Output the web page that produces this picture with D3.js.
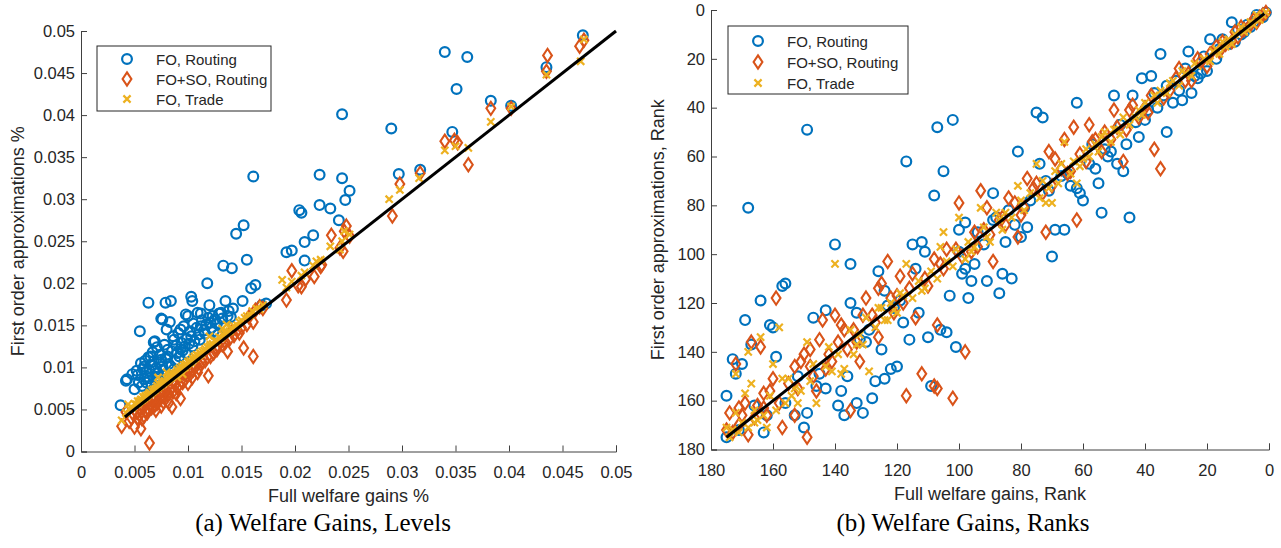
<!DOCTYPE html>
<html>
<head>
<meta charset="utf-8">
<script src="https://cdn.jsdelivr.net/npm/d3@7"></script>
<style>
body{margin:0;background:#fff}
svg text{font-family:"Liberation Sans",Arial,sans-serif;fill:#262626}
svg text.caption{font-family:"Liberation Serif","Times New Roman",serif;fill:#000}
</style>
</head>
<body>
<svg id="fig" width="1281" height="548"></svg>
<script>
// legend / series
const seriesNames = ["FO, Routing", "FO+SO, Routing", "FO, Trade"];
const seriesColors = ["#0072BD", "#D95319", "#EDB120"];

// panel (a): [full welfare gain %, first order approximation %]
const levelFO = [
 [0.0469,0.0495],[0.0340,0.0475],[0.0361,0.0469],[0.0351,0.0431],[0.0383,0.0417],[0.0402,0.0411],[0.0435,0.0457],
 [0.0244,0.0401],[0.0290,0.0384],[0.0347,0.0380],[0.0317,0.0335],[0.0297,0.0330],[0.0223,0.0329],[0.0244,0.0325],
 [0.0251,0.0310],[0.0247,0.0299],[0.0204,0.0287],[0.0206,0.0284],[0.0223,0.0293],[0.0233,0.0289],[0.0241,0.0275],
 [0.0217,0.0257],[0.0209,0.0249],[0.0192,0.0237],[0.0197,0.0239],[0.0209,0.0227],[0.0161,0.0327],[0.0152,0.0269],
 [0.0145,0.0259],[0.0155,0.0228],[0.0133,0.0221],[0.0141,0.0218],[0.0118,0.0200],[0.0163,0.0198],[0.0159,0.0194],
 [0.0103,0.0184],[0.0104,0.0179],[0.0063,0.0177],[0.0079,0.0177],[0.0084,0.0179],[0.0135,0.0179],[0.0151,0.0179],
 [0.0169,0.0174],[0.0120,0.0174],[0.0055,0.0143],[0.0075,0.0158],[0.0080,0.0145],[0.0083,0.0154],[0.0098,0.0163],
 [0.0112,0.0164],[0.0123,0.0161],[0.0129,0.0164],[0.0138,0.0167],[0.0142,0.0170],[0.0068,0.0130],[0.0042,0.0084],
 [0.0037,0.0055],[0.0043,0.0086],[0.0050,0.0074],[0.0053,0.0091],[0.0059,0.0101],[0.0065,0.0113],[0.0069,0.0131],
 [0.0076,0.0157],[0.0093,0.0145],[0.0100,0.0161],[0.0109,0.0165],[0.0131,0.0165],[0.0137,0.0161],[0.0087,0.0133],
 [0.0081,0.0121],[0.0097,0.0125],[0.0075,0.0109],[0.0084,0.0101],[0.0062,0.0089],[0.0072,0.0093],[0.0054,0.0082],
 [0.0112,0.0149],[0.0121,0.0153],[0.0103,0.0137],[0.0090,0.0117],[0.0069,0.0074],[0.0048,0.0092],[0.0052,0.0096],
 [0.0056,0.0105],[0.0058,0.0098],[0.0060,0.0108],[0.0061,0.0094],[0.0063,0.0112],[0.0064,0.0087],[0.0066,0.0103],
 [0.0067,0.0118],[0.0070,0.0099],[0.0071,0.0124],[0.0073,0.0106],[0.0074,0.0115],[0.0077,0.0097],[0.0078,0.0127],
 [0.0079,0.0111],[0.0082,0.0104],[0.0085,0.0119],[0.0086,0.0137],[0.0088,0.0108],[0.0089,0.0126],[0.0091,0.0141],
 [0.0092,0.0113],[0.0094,0.0129],[0.0095,0.0120],[0.0096,0.0149],[0.0099,0.0134],[0.0101,0.0128],[0.0102,0.0143],
 [0.0105,0.0152],[0.0106,0.0131],[0.0108,0.0147],[0.0110,0.0139],[0.0113,0.0156],[0.0115,0.0144],[0.0117,0.0151],
 [0.0119,0.0159],[0.0122,0.0147],[0.0125,0.0157],[0.0127,0.0152],[0.0132,0.0158],[0.0134,0.0149],[0.0140,0.0160],
 [0.0057,0.0078],[0.0061,0.0082],[0.0066,0.0079],[0.0072,0.0086],[0.0079,0.0092],[0.0083,0.0088],[0.0173,0.0176],
 [0.0064,0.0096],[0.0068,0.0107],[0.0070,0.0089],[0.0076,0.0101],[0.0081,0.0113],[0.0087,0.0098],[0.0093,0.0122],
 [0.0098,0.0117],[0.0104,0.0125],[0.0111,0.0133],[0.0116,0.0140],[0.0124,0.0143],[0.0128,0.0139],[0.0059,0.0086]
];
const levelFOSO = [
 [0.0436,0.0471],[0.0466,0.0482],[0.0470,0.0489],[0.0435,0.0452],[0.0383,0.0408],[0.0402,0.0408],[0.0340,0.0369],
 [0.0349,0.0370],[0.0352,0.0367],[0.0362,0.0341],[0.0317,0.0331],[0.0298,0.0318],[0.0291,0.0280],[0.0248,0.0268],
 [0.0234,0.0257],[0.0246,0.0262],[0.0251,0.0256],[0.0245,0.0238],[0.0242,0.0242],[0.0224,0.0220],[0.0197,0.0215],
 [0.0206,0.0196],[0.0218,0.0208],[0.0192,0.0180],[0.0161,0.0113],[0.0152,0.0123],[0.0161,0.0154],[0.0119,0.0090],
 [0.0137,0.0119],[0.0127,0.0121],[0.0064,0.0010],[0.0038,0.0030],[0.0050,0.0029],[0.0056,0.0027],[0.0085,0.0053],
 [0.0093,0.0063],[0.0104,0.0088],[0.0070,0.0049],[0.0042,0.0047],[0.0077,0.0059],[0.0210,0.0205],[0.0203,0.0197],
 [0.0225,0.0222],[0.0163,0.0168],[0.0167,0.0172],[0.0157,0.0160],[0.0170,0.0170],[0.0148,0.0141],[0.0143,0.0138],
 [0.0139,0.0134],[0.0132,0.0127],[0.0128,0.0125],[0.0124,0.0117],[0.0121,0.0113],[0.0116,0.0108],[0.0113,0.0106],
 [0.0110,0.0099],[0.0107,0.0101],[0.0102,0.0092],[0.0099,0.0090],[0.0097,0.0085],[0.0095,0.0082],[0.0092,0.0080],
 [0.0090,0.0076],[0.0088,0.0079],[0.0086,0.0071],[0.0084,0.0074],[0.0082,0.0068],[0.0080,0.0072],[0.0078,0.0065],
 [0.0076,0.0067],[0.0074,0.0062],[0.0072,0.0060],[0.0071,0.0057],[0.0069,0.0055],[0.0068,0.0060],[0.0066,0.0052],
 [0.0065,0.0057],[0.0063,0.0050],[0.0062,0.0046],[0.0060,0.0048],[0.0059,0.0042],[0.0058,0.0052],[0.0057,0.0039],
 [0.0055,0.0044],[0.0053,0.0040],[0.0052,0.0047],[0.0047,0.0040],[0.0045,0.0036],[0.0118,0.0112],[0.0114,0.0112],
 [0.0126,0.0124],[0.0131,0.0131],[0.0135,0.0130],[0.0141,0.0143],[0.0146,0.0144],[0.0150,0.0147],[0.0155,0.0151],
 [0.0101,0.0097],[0.0096,0.0093],[0.0091,0.0087],[0.0087,0.0083],[0.0081,0.0077],[0.0079,0.0074],[0.0073,0.0069],
 [0.0067,0.0063],[0.0061,0.0057],[0.0054,0.0051],[0.0082,0.0058],[0.0075,0.0054],[0.0089,0.0069],[0.0100,0.0081],
 [0.0109,0.0094],[0.0105,0.0097]
];
const levelTrade = [
 [0.0467,0.0464],[0.0470,0.0490],[0.0435,0.0448],[0.0383,0.0392],[0.0402,0.0410],[0.0340,0.0358],[0.0350,0.0363],
 [0.0362,0.0361],[0.0316,0.0325],[0.0298,0.0311],[0.0288,0.0300],[0.0246,0.0262],[0.0233,0.0244],[0.0242,0.0240],
 [0.0220,0.0226],[0.0188,0.0204],[0.0251,0.0258],[0.0224,0.0228],[0.0206,0.0209],[0.0197,0.0202],[0.0209,0.0213],
 [0.0217,0.0221],[0.0192,0.0195],[0.0244,0.0250],[0.0170,0.0174],[0.0167,0.0169],[0.0164,0.0170],[0.0160,0.0167],
 [0.0158,0.0162],[0.0155,0.0161],[0.0153,0.0159],[0.0150,0.0156],[0.0148,0.0154],[0.0146,0.0150],[0.0143,0.0149],
 [0.0141,0.0147],[0.0139,0.0143],[0.0137,0.0142],[0.0135,0.0140],[0.0133,0.0139],[0.0131,0.0135],[0.0129,0.0136],
 [0.0127,0.0131],[0.0125,0.0132],[0.0123,0.0128],[0.0121,0.0127],[0.0120,0.0125],[0.0118,0.0124],[0.0116,0.0122],
 [0.0115,0.0120],[0.0113,0.0119],[0.0112,0.0116],[0.0111,0.0117],[0.0110,0.0114],[0.0108,0.0115],[0.0107,0.0111],
 [0.0106,0.0113],[0.0105,0.0109],[0.0104,0.0111],[0.0103,0.0106],[0.0102,0.0108],[0.0101,0.0105],[0.0100,0.0107],
 [0.0099,0.0103],[0.0098,0.0104],[0.0097,0.0100],[0.0096,0.0103],[0.0095,0.0099],[0.0094,0.0101],[0.0093,0.0096],
 [0.0092,0.0099],[0.0091,0.0095],[0.0090,0.0097],[0.0089,0.0094],[0.0088,0.0093],[0.0087,0.0091],[0.0086,0.0092],
 [0.0085,0.0089],[0.0084,0.0091],[0.0083,0.0087],[0.0082,0.0088],[0.0081,0.0085],[0.0080,0.0087],[0.0079,0.0083],
 [0.0078,0.0084],[0.0077,0.0081],[0.0076,0.0083],[0.0075,0.0080],[0.0074,0.0078],[0.0073,0.0080],[0.0072,0.0076],
 [0.0071,0.0078],[0.0070,0.0075],[0.0069,0.0073],[0.0068,0.0074],[0.0067,0.0071],[0.0066,0.0073],[0.0065,0.0069],
 [0.0064,0.0070],[0.0063,0.0068],[0.0062,0.0067],[0.0061,0.0065],[0.0060,0.0066],[0.0059,0.0063],[0.0058,0.0065],
 [0.0057,0.0061],[0.0056,0.0062],[0.0055,0.0060],[0.0054,0.0058],[0.0053,0.0060],[0.0052,0.0056],[0.0050,0.0057],
 [0.0048,0.0052],[0.0045,0.0051],[0.0042,0.0046],[0.0038,0.0037],[0.0044,0.0056],[0.0080,0.0094],[0.0090,0.0088],
 [0.0120,0.0137],[0.0136,0.0151],[0.0132,0.0146],[0.0072,0.0088],[0.0095,0.0092]
];
const levelLine = [0.0041, 0.05];
const levelTicks = [0, 0.005, 0.01, 0.015, 0.02, 0.025, 0.03, 0.035, 0.04, 0.045, 0.05];
const levelTickLabels = ["0", "0.005", "0.01", "0.015", "0.02", "0.025", "0.03", "0.035", "0.04", "0.045", "0.05"];

// panel (b): [full welfare gain rank, first order approximation rank]
const rankFO = [
 [168,81],[149,49],[140,96],[135,104],[117,62],[108,76],[107,48],[102,45],[105,66],[89,75],[81,58],[75,42],[73,44],
 [62,38],[50,35],[44,35],[41,28],[38,27],[35,18],[33,50],[26,17],[19,12],[12,5],[54,83],[45,85],[66,90],[69,90],
 [70,101],[60,78],[55,71],[62,73],[64,72],[56,65],[47,66],[49,63],[51,58],[46,55],[42,52],[40,45],[36,40],[31,38],
 [28,37],[25,34],[20,25],[23,28],[33,31],[15,12],[8,9],[3,3],[78,89],[80,93],[85,95],[89,86],[91,111],[86,108],
 [83,110],[87,116],[96,111],[99,108],[100,90],[98,87],[103,117],[97,118],[101,138],[104,132],[110,134],[106,131],
 [109,154],[120,146],[122,147],[124,151],[127,152],[128,159],[131,165],[133,161],[137,166],[139,162],[138,156],
 [136,150],[143,155],[146,154],[150,171],[153,166],[156,161],[149,165],[163,173],[175,175],[175,158],[173,143],
 [170,145],[172,149],[169,127],[164,119],[161,129],[160,130],[167,137],[159,142],[157,113],[156,112],[143,123],
 [147,126],[135,120],[133,124],[130,136],[125,139],[126,107],[124,115],[115,96],[112,95],[111,99],[114,106],
 [113,124],[118,128],[116,135],[121,122],[98,106],[74,63],[61,75],
 [1,1],[2,3],[4,2],[5,5],[6,7],[7,6],[9,10],[10,8],[11,13],[13,14],[16,16],[17,20],[21,19],[22,26],[24,27],
 [27,24],[29,33],[30,29],[34,35],[37,34],[39,41],[43,46],[48,47],[52,60],[53,57],[57,55],[58,63],[65,67],[67,68],
 [71,74],[72,70],[77,78],[79,81],[82,88],[84,82],[88,85],[92,96],[94,91],[95,104],[100,99],[119,119],[123,121],
 [129,131],[132,135],[145,149],[152,150],[162,166],[166,162],[171,172]
];
const rankFOSO = [
 [159,118],[167,136],[164,138],[172,145],[174,165],[175,172],[168,174],[171,163],[169,161],[165,162],[163,157],
 [162,166],[160,151],[157,171],[153,166],[153,146],[151,144],[150,141],[149,175],[148,139],[145,135],[144,127],
 [140,125],[138,129],[137,131],[143,147],[146,156],[135,164],[132,144],[131,125],[130,118],[126,134],[126,114],
 [125,112],[123,103],[120,117],[119,109],[115,108],[114,126],[117,158],[112,149],[108,154],[107,155],[107,129],
 [108,102],[104,98],[102,159],[100,79],[98,140],[95,91],[93,74],[91,81],[89,103],[86,85],[84,77],[81,93],[78,69],
 [75,71],[72,91],[71,58],[69,61],[65,67],[63,48],[62,86],[66,53],[58,47],[56,53],[50,41],[47,62],[44,39],[37,57],
 [35,65],[29,24],[25,29],[19,18],[15,13],[9,7],[1,1],
 [2,2],[3,3],[4,5],[5,4],[6,6],[8,8],[10,11],[11,9],[12,13],[14,14],[16,17],[17,15],[20,23],[22,21],[23,20],
 [26,26],[27,29],[30,28],[32,33],[34,36],[38,35],[39,42],[40,40],[42,44],[45,41],[46,49],[49,48],[51,53],[53,50],
 [54,58],[57,54],[59,62],[61,59],[64,66],[67,65],[70,72],[73,75],[76,73],[79,81],[80,84],[82,79],[85,88],[87,86],
 [90,92],[92,90],[94,97],[96,99],[99,101],[101,98],[105,106],[106,104],[110,113],[111,110],[116,114],[118,120],
 [121,124],[122,118],[127,128],[128,125],[133,136],[134,131],[136,139],[139,136],[141,144],[142,141],[147,150],
 [148,146],[152,155],[155,153],[158,161],[161,156],[163,163],[166,167],[170,166],[171,170],[173,173]
];
const rankTrade = [
 [140,104],[158,130],[164,134],[168,140],[172,149],[167,153],[169,157],[172,165],[175,171],[166,169],[162,171],
 [159,164],[160,145],[157,151],[153,155],[152,161],[149,136],[146,161],[141,148],[138,149],[137,147],[134,141],
 [129,148],[131,137],[125,122],[123,127],[121,123],[118,117],[117,104],[111,114],[106,97],[105,91],[100,85],
 [96,99],[93,81],[90,95],[88,83],[81,72],[75,63],[72,79],[70,79],[66,54],[62,71],[60,61],[53,50],[49,49],[43,44],
 [40,38],[37,35],[31,29],[23,23],[17,16],[11,10],[4,2],
 [1,1],[2,2],[3,4],[5,6],[6,5],[7,8],[8,9],[9,7],[12,14],[13,12],[14,15],[15,13],[16,18],[18,17],[19,21],[21,20],
 [24,22],[25,27],[27,26],[28,25],[29,31],[32,30],[33,34],[35,33],[36,38],[41,43],[42,41],[45,47],[47,44],[48,51],
 [50,49],[51,54],[54,52],[55,58],[56,55],[58,60],[59,57],[61,64],[63,62],[64,67],[67,63],[68,71],[69,66],[71,73],
 [73,70],[74,77],[77,75],[79,82],[80,78],[83,85],[85,83],[86,90],[87,86],[91,93],[92,89],[95,97],[97,95],[98,102],
 [101,98],[102,105],[104,103],[107,110],[109,107],[112,115],[113,111],[115,118],[119,116],[120,124],[122,120],
 [124,127],[126,122],[127,130],[130,126],[132,133],[133,137],[135,131],[139,141],[142,138],[143,146],[147,145],
 [148,152],[151,156],[154,158],[155,151],[156,161],[161,158],[163,166],[165,168],[166,164],[168,171],[170,169],
 [171,173],[173,172],[174,175]
];
const rankLine = [1.5, 175];
const rankTicks = [0, 20, 40, 60, 80, 100, 120, 140, 160, 180];

const svg = d3.select("#fig");

function marker(g, kind, color) {
  if (kind == 0) {
    g.append("circle").attr("r", 4.9).attr("fill", "none").attr("stroke", color).attr("stroke-width", 2.2);
  } else if (kind == 1) {
    g.append("path").attr("d", "M0,-6.6L4.4,0L0,6.6L-4.4,0Z").attr("fill", "none").attr("stroke", color).attr("stroke-width", 2.1);
  } else {
    g.append("path").attr("d", "M-3.6,-3.6L3.6,3.6M-3.6,3.6L3.6,-3.6").attr("stroke", color).attr("stroke-width", 2.2);
  }
}

function drawPanel(p) {
  const g = svg.append("g");
  const x = d3.scaleLinear().domain(p.xDomain).range(p.xRange);
  const y = d3.scaleLinear().domain(p.yDomain).range(p.yRange);

  // axes, ticks pointing inward like matlab
  const xAxis = d3.axisBottom(x).tickValues(p.ticks).tickSize(-6).tickPadding(11)
      .tickFormat((d, i) => p.tickLabels ? p.tickLabels[i] : d);
  const yAxis = d3.axisLeft(y).tickValues(p.ticks).tickSize(-6).tickPadding(11)
      .tickFormat((d, i) => p.tickLabels ? p.tickLabels[i] : d);
  const gx = g.append("g").attr("transform", `translate(0,${Math.max(p.yRange[0], p.yRange[1])})`).call(xAxis);
  const gy = g.append("g").attr("transform", `translate(${Math.min(p.xRange[0], p.xRange[1])},0)`).call(yAxis);
  [gx, gy].forEach(a => {
    a.select(".domain").attr("stroke", "#404040").attr("stroke-width", 1);
    a.selectAll(".tick line").attr("stroke", "#404040");
    a.selectAll(".tick text").attr("font-size", 16.5).attr("fill", "#262626");
  });
  gx.selectAll(".tick text").attr("dy", "0.95em");
  gy.selectAll(".tick text").attr("dx", 5);

  p.series.forEach((data, k) => {
    g.append("g").selectAll("g").data(data).enter().append("g")
      .attr("transform", d => `translate(${x(d[0])},${y(d[1])})`)
      .each(function () { marker(d3.select(this), k, seriesColors[k]); });
  });

  g.append("line")
    .attr("x1", x(p.line[0])).attr("y1", y(p.line[0]))
    .attr("x2", x(p.line[1])).attr("y2", y(p.line[1]))
    .attr("stroke", "#000").attr("stroke-width", 3);

  g.append("text").attr("x", (p.xRange[0] + p.xRange[1]) / 2).attr("y", p.xLabelY)
    .attr("text-anchor", "middle").attr("font-size", 18).text(p.xLabel);
  g.append("text").attr("transform", `translate(${p.yLabelX},${(p.yRange[0] + p.yRange[1]) / 2}) rotate(-90)`)
    .attr("text-anchor", "middle").attr("font-size", 18).text(p.yLabel);

  // legend
  const lg = g.append("g").attr("transform", `translate(${p.legend[0]},${p.legend[1]})`);
  lg.append("rect").attr("width", p.legend[2]).attr("height", p.legend[3])
    .attr("fill", "#fff").attr("stroke", "#262626").attr("stroke-width", 1);
  seriesNames.forEach((name, k) => {
    const row = lg.append("g").attr("transform", `translate(30,${p.legendRows[k]})`);
    marker(row, k, seriesColors[k]);
    row.append("text").attr("x", 29).attr("y", 5.5).attr("font-size", 15).text(name);
  });

  svg.append("text").attr("class", "caption").attr("x", p.captionX).attr("y", 531)
    .attr("text-anchor", "middle").attr("font-size", 25).text(p.caption);
}

drawPanel({
  xDomain: [0, 0.05], xRange: [81, 616], yDomain: [0, 0.05], yRange: [451.5, 31],
  ticks: levelTicks, tickLabels: levelTickLabels,
  series: [levelFO, levelFOSO, levelTrade], line: levelLine,
  xLabel: "Full welfare gains %", yLabel: "First order approximations %",
  xLabelY: 502, yLabelX: 24,
  legend: [97, 46, 174, 65], legendRows: [13, 33, 53],
  caption: "(a) Welfare Gains, Levels", captionX: 323
});

drawPanel({
  xDomain: [180, 0], xRange: [711, 1269], yDomain: [0, 180], yRange: [10, 449.5],
  ticks: rankTicks,
  series: [rankFO, rankFOSO, rankTrade], line: rankLine,
  xLabel: "Full welfare gains, Rank", yLabel: "First order approximations, Rank",
  xLabelY: 500, yLabelX: 664,
  legend: [728, 26, 180, 68], legendRows: [15, 36, 57],
  caption: "(b) Welfare Gains, Ranks", captionX: 963
});
</script>
</body>
</html>
